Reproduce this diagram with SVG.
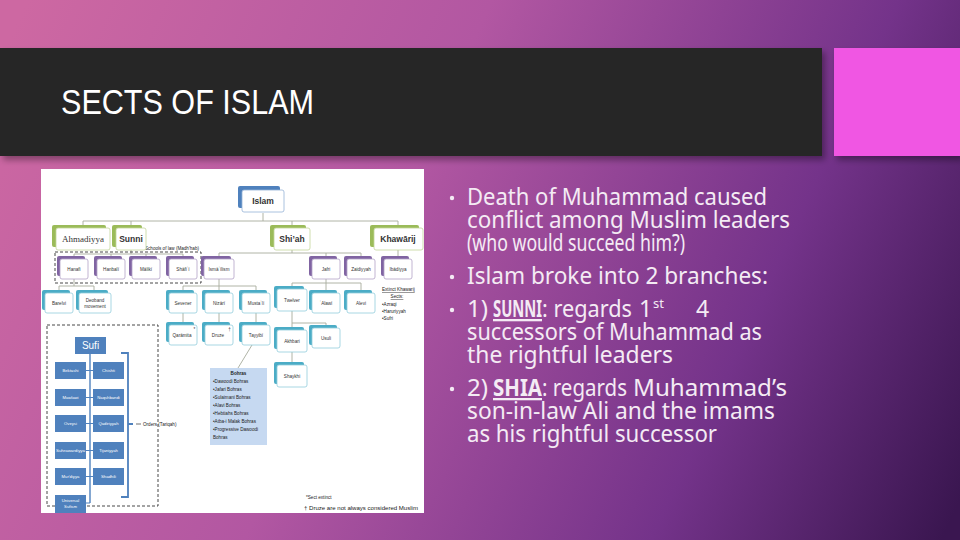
<svg xmlns="http://www.w3.org/2000/svg" width="960" height="540" viewBox="0 0 960 540">
<defs>
<linearGradient id="bg" gradientUnits="userSpaceOnUse" x1="0" y1="60" x2="960" y2="500">
<stop offset="0" stop-color="#cd68a2"/>
<stop offset="0.4" stop-color="#b257a2"/>
<stop offset="0.75" stop-color="#74338a"/>
<stop offset="1" stop-color="#3a1650"/>
</linearGradient>
<filter id="sh" x="-5%" y="-10%" width="115%" height="130%">
<feDropShadow dx="3" dy="4" stdDeviation="3" flood-color="#000" flood-opacity="0.35"/>
</filter>
<style>
.bkp{fill:#8064a2}.bkt{fill:#4bacc6}.bkg{fill:#9bbb59}.bkb{fill:#4f81bd}
.frp{fill:#fff;stroke:#b3a2c7;stroke-width:0.8}
.frt{fill:#fff;stroke:#92cddc;stroke-width:0.8}
.frg{fill:#fff;stroke:#c3d69b;stroke-width:0.8}
.frb{fill:#fff;stroke:#95b3d7;stroke-width:0.8}
.nt{font-family:"Liberation Sans",Arial,sans-serif;font-size:4.6px;fill:#333;text-anchor:middle}
.bt{font-family:"Liberation Sans",Arial,sans-serif;font-size:8.5px;font-weight:bold;fill:#333;text-anchor:middle}
.ln{stroke:#a7ab9c;fill:none;stroke-width:0.9}
.sb{fill:#4f81bd}
.st{font-family:"Liberation Sans",Arial,sans-serif;font-size:4.2px;fill:#fff;text-anchor:middle}
.sm{font-family:"Liberation Sans",Arial,sans-serif;font-size:4.6px;fill:#222}
.bl{font-family:"Noto Sans","Open Sans",sans-serif;font-size:23px;fill:#f4ebf4}
.bb{font-weight:bold;text-decoration:underline}
.sup{font-size:13px}
.dash{fill:none;stroke:#333;stroke-width:0.9;stroke-dasharray:3 2}
</style>
</defs>
<rect width="960" height="540" fill="url(#bg)"/>
<rect x="0" y="48" width="822" height="108" fill="#262626" filter="url(#sh)"/>
<rect x="834" y="48" width="126" height="108" fill="#f056e3" filter="url(#sh)"/>
<text x="61" y="114" font-family="Liberation Sans,Arial,sans-serif" font-size="35" fill="#fff" textLength="253" lengthAdjust="spacingAndGlyphs">SECTS OF ISLAM</text>

<g id="bullets">
<circle cx="452" cy="198" r="2.2" fill="#f4ebf4"/>
<circle cx="452" cy="277" r="2.2" fill="#f4ebf4"/>
<circle cx="452" cy="310" r="2.2" fill="#f4ebf4"/>
<circle cx="452" cy="389" r="2.2" fill="#f4ebf4"/>
<text class="bl" x="467" y="205" textLength="300" lengthAdjust="spacingAndGlyphs">Death of Muhammad caused</text>
<text class="bl" x="467" y="228" textLength="323" lengthAdjust="spacingAndGlyphs">conflict among Muslim leaders</text>
<text class="bl" x="467" y="251" textLength="218" lengthAdjust="spacingAndGlyphs">(who would succeed him?)</text>
<text class="bl" x="467" y="284" textLength="301" lengthAdjust="spacingAndGlyphs">Islam broke into 2 branches:</text>
<text class="bl" y="317"><tspan x="467" textLength="21" lengthAdjust="spacingAndGlyphs">1)</tspan><tspan class="bb" x="493" textLength="49" lengthAdjust="spacingAndGlyphs">SUNNI</tspan><tspan x="542" textLength="90" lengthAdjust="spacingAndGlyphs">: regards</tspan><tspan x="639">1</tspan><tspan class="sup" x="653" y="308">st</tspan><tspan x="696" y="317">4</tspan></text>
<text class="bl" x="467" y="340" textLength="295" lengthAdjust="spacingAndGlyphs">successors of Muhammad as</text>
<text class="bl" x="467" y="363" textLength="206" lengthAdjust="spacingAndGlyphs">the rightful leaders</text>
<text class="bl" y="396"><tspan x="467" textLength="21" lengthAdjust="spacingAndGlyphs">2)</tspan><tspan class="bb" x="493" textLength="49" lengthAdjust="spacingAndGlyphs">SHIA</tspan><tspan x="542" textLength="85" lengthAdjust="spacingAndGlyphs">: regards</tspan><tspan x="633" textLength="154" lengthAdjust="spacingAndGlyphs">Muhammad’s</tspan></text>
<text class="bl" x="467" y="419" textLength="308" lengthAdjust="spacingAndGlyphs">son-in-law Ali and the imams</text>
<text class="bl" x="467" y="442" textLength="250" lengthAdjust="spacingAndGlyphs">as his rightful successor</text>
</g>

<rect x="41" y="169" width="383" height="344" fill="#fff"/>

<g id="connectors">
<path class="ln" d="M263 213V221M83 221H398M83 221V225M131 221V225M292 221V225M398 221V225"/>
<path class="ln" d="M131 250V254M74 254H183M74 254V256M111 254V256M146 254V256M183 254V256"/>
<path class="ln" d="M292 250V253M219 253H361M219 253V256M326 253V256M361 253V256M398 250V256"/>
<path class="ln" d="M74 279V286M59 286H94M59 286V290M94 286V290"/>
<path class="ln" d="M219 279V286M183 286H256M183 286V290M219 286V290M256 286V290"/>
<path class="ln" d="M326 279V283M292 283H361M292 283V286M326 283V290M361 283V290"/>
<path class="ln" d="M183 313V322M219 313V322M256 313V322"/>
<path class="ln" d="M292 311V327M292 323H326V325M292 352V362"/>
<path class="ln" stroke="#555" d="M252 345L238 368"/>
</g>

<rect class="dash" x="55" y="252" width="146" height="31"/>
<text class="sm" x="145" y="250" font-size="4.4">Schools of law (Madh'hab)</text>

<g id="n-islam"><rect class="bkb" x="238" y="186" width="42" height="22" rx="2"/><rect class="frb" x="242" y="190" width="42" height="22" rx="2"/><text class="bt" x="263" y="204" font-size="9">Islam</text></g>
<g id="n-ahmadiyya"><rect class="bkg" x="52" y="225" width="54" height="22" rx="2"/><rect class="frg" x="56" y="228" width="54" height="22" rx="2"/><text x="83" y="242" font-family="Liberation Serif,serif" font-size="9" fill="#333" text-anchor="middle">Ahmadiyya</text></g>
<g id="n-sunni"><rect class="bkg" x="112" y="225" width="30" height="22" rx="2"/><rect class="frg" x="116" y="228" width="30" height="22" rx="2"/><text class="bt" x="131" y="242" font-size="7.5">Sunni</text></g>
<g id="n-shiah"><rect class="bkg" x="270" y="225" width="36" height="22" rx="2"/><rect class="frg" x="274" y="228" width="36" height="22" rx="2"/><text class="bt" x="292" y="242" font-size="7.5">Shi’ah</text></g>
<g id="n-khawarij"><rect class="bkg" x="370" y="225" width="49" height="22" rx="2"/><rect class="frg" x="374" y="228" width="49" height="22" rx="2"/><text class="bt" x="398" y="242" font-size="7.5">Khawārij</text></g>

<g id="n-hanafi"><rect class="bkp" x="57" y="256" width="28" height="20" rx="2"/><rect class="frp" x="60" y="259" width="28" height="20" rx="2"/><text class="nt" x="74" y="270.5">Hanafi</text></g>
<g id="n-hanbali"><rect class="bkp" x="94" y="256" width="28" height="20" rx="2"/><rect class="frp" x="97" y="259" width="28" height="20" rx="2"/><text class="nt" x="111" y="270.5">Hanbalī</text></g>
<g id="n-maliki"><rect class="bkp" x="129" y="256" width="28" height="20" rx="2"/><rect class="frp" x="132" y="259" width="28" height="20" rx="2"/><text class="nt" x="146" y="270.5">Mālikī</text></g>
<g id="n-shafii"><rect class="bkp" x="166" y="256" width="28" height="20" rx="2"/><rect class="frp" x="169" y="259" width="28" height="20" rx="2"/><text class="nt" x="183" y="270.5">Shāfiʿī</text></g>
<g id="n-ismailism"><rect class="bkp" x="201" y="256" width="30" height="20" rx="2"/><rect class="frp" x="204" y="259" width="30" height="20" rx="2"/><text class="nt" x="219" y="270.5">Ismāʿīlism</text></g>
<g id="n-jafri"><rect class="bkp" x="309" y="256" width="28" height="20" rx="2"/><rect class="frp" x="312" y="259" width="28" height="20" rx="2"/><text class="nt" x="326" y="270.5">Jafri</text></g>
<g id="n-zaidiyyah"><rect class="bkp" x="344" y="256" width="28" height="20" rx="2"/><rect class="frp" x="347" y="259" width="28" height="20" rx="2"/><text class="nt" x="361" y="270.5">Zaidiyyah</text></g>
<g id="n-ibadiyya"><rect class="bkp" x="381" y="256" width="28" height="20" rx="2"/><rect class="frp" x="384" y="259" width="28" height="20" rx="2"/><text class="nt" x="398" y="270.5">Ibādiyya</text></g>

<g id="n-barelvi"><rect class="bkt" x="42" y="290" width="28" height="20" rx="2"/><rect class="frt" x="45" y="293" width="28" height="20" rx="2"/><text class="nt" x="59" y="304.5">Barelvi</text></g>
<g id="n-deoband"><rect class="bkt" x="76" y="290" width="32" height="20" rx="2"/><rect class="frt" x="79" y="293" width="32" height="20" rx="2"/><text class="nt" x="95" y="302">Deoband</text><text class="nt" x="95" y="307.5">movement</text></g>
<g id="n-sevener"><rect class="bkt" x="166" y="290" width="28" height="20" rx="2"/><rect class="frt" x="169" y="293" width="28" height="20" rx="2"/><text class="nt" x="183" y="304.5">Sevener</text></g>
<g id="n-nizari"><rect class="bkt" x="202" y="290" width="28" height="20" rx="2"/><rect class="frt" x="205" y="293" width="28" height="20" rx="2"/><text class="nt" x="219" y="304.5">Nizārī</text></g>
<g id="n-mustali"><rect class="bkt" x="239" y="290" width="28" height="20" rx="2"/><rect class="frt" x="242" y="293" width="28" height="20" rx="2"/><text class="nt" x="256" y="304.5">Mustaʿlī</text></g>
<g id="n-twelver"><rect class="bkt" x="274" y="286" width="30" height="22" rx="2"/><rect class="frt" x="277" y="289" width="30" height="22" rx="2"/><text class="nt" x="292" y="301.5">Twelver</text></g>
<g id="n-alawi"><rect class="bkt" x="309" y="290" width="28" height="20" rx="2"/><rect class="frt" x="312" y="293" width="28" height="20" rx="2"/><text class="nt" x="326" y="304.5">ʿAlawī</text></g>
<g id="n-alevi"><rect class="bkt" x="344" y="290" width="28" height="20" rx="2"/><rect class="frt" x="347" y="293" width="28" height="20" rx="2"/><text class="nt" x="361" y="304.5">Alevi</text></g>

<g id="n-qaramita"><rect class="bkt" x="166" y="322" width="28" height="20" rx="2"/><rect class="frt" x="169" y="325" width="28" height="20" rx="2"/><text class="nt" x="182" y="337">Qarāmita</text><text class="nt" x="194.5" y="331" font-size="6">*</text></g>
<g id="n-druze"><rect class="bkt" x="202" y="322" width="28" height="20" rx="2"/><rect class="frt" x="205" y="325" width="28" height="20" rx="2"/><text class="nt" x="218" y="337">Druze</text><text class="nt" x="229.5" y="331" font-size="5.5">†</text></g>
<g id="n-tayyibi"><rect class="bkt" x="239" y="322" width="28" height="20" rx="2"/><rect class="frt" x="242" y="325" width="28" height="20" rx="2"/><text class="nt" x="256" y="337">Tayyibī</text></g>
<g id="n-akhbari"><rect class="bkt" x="274" y="327" width="30" height="22" rx="2"/><rect class="frt" x="277" y="330" width="30" height="22" rx="2"/><text class="nt" x="292" y="342.5">Akhbari</text></g>
<g id="n-usuli"><rect class="bkt" x="309" y="325" width="28" height="20" rx="2"/><rect class="frt" x="312" y="328" width="28" height="20" rx="2"/><text class="nt" x="326" y="339.5">Usuli</text></g>
<g id="n-shaykhi"><rect class="bkt" x="274" y="362" width="30" height="22" rx="2"/><rect class="frt" x="277" y="365" width="30" height="22" rx="2"/><text class="nt" x="292" y="377.5">Shaykhi</text></g>

<g id="n-bohras">
<rect x="210" y="368" width="57" height="77" fill="#c6d9f1"/>
<text class="sm" x="238.5" y="375" text-anchor="middle" font-weight="bold">Bohras</text>
<text class="sm" x="213" y="383">•Dawoodi Bohras</text>
<text class="sm" x="213" y="391">•Jafari Bohras</text>
<text class="sm" x="213" y="399">•Sulaimani Bohras</text>
<text class="sm" x="213" y="407">•Alavi Bohras</text>
<text class="sm" x="213" y="415">•Hebtiahs Bohras</text>
<text class="sm" x="213" y="423">•Atba-i Malak Bohras</text>
<text class="sm" x="213" y="431">•Progressive Dawoodi</text>
<text class="sm" x="213" y="439">Bohras</text>
</g>

<g id="n-extinct-khawarij">
<text class="sm" x="382" y="291" text-decoration="underline">Extinct Khawarij</text>
<text class="sm" x="397" y="298" text-anchor="middle" text-decoration="underline">Sects:</text>
<text class="sm" x="382" y="306">•Azraqi</text>
<text class="sm" x="382" y="313">•Haruriyyah</text>
<text class="sm" x="382" y="320">•Sufri</text>
</g>

<g id="n-sufi-group">
<rect class="dash" x="47" y="325" width="111" height="181"/>
<path d="M90 353V503" stroke="#4f81bd" stroke-width="1.4" fill="none"/>
<path d="M86 370.5H93M86 397.5H93M86 423.5H93M86 450.5H93M86 476.5H93M86 503H90" stroke="#4f81bd" stroke-width="1" fill="none"/>
<path d="M121 353H128V497H121M128 424H133" stroke="#4f81bd" stroke-width="1.8" fill="none"/>
<path d="M136 424H141" stroke="#333" stroke-width="0.7"/>
<text class="sm" x="143" y="426" font-size="6">Orders (Tariqah)</text>
<g id="n-sufi"><rect class="sb" x="75" y="337" width="31" height="17"/><text x="90.5" y="349" font-family="Liberation Sans,Arial,sans-serif" font-size="10" fill="#fff" text-anchor="middle">Sufi</text></g>
<g id="n-bektashi"><rect class="sb" x="55" y="362" width="31" height="17"/><text class="st" x="70.5" y="372">Bektashi</text></g>
<g id="n-chishti"><rect class="sb" x="93" y="362" width="31" height="17"/><text class="st" x="108.5" y="372">Chishti</text></g>
<g id="n-mawlawi"><rect class="sb" x="55" y="389" width="31" height="17"/><text class="st" x="70.5" y="399">Mawlawi</text></g>
<g id="n-naqshbandi"><rect class="sb" x="93" y="389" width="31" height="17"/><text class="st" x="108.5" y="399">Naqshbandi</text></g>
<g id="n-oveysi"><rect class="sb" x="55" y="415" width="31" height="17"/><text class="st" x="70.5" y="425">Oveysi</text></g>
<g id="n-qadiriyyah"><rect class="sb" x="93" y="415" width="31" height="17"/><text class="st" x="108.5" y="425">Qadiriyyah</text></g>
<g id="n-suhrawardiyya"><rect class="sb" x="55" y="442" width="31" height="17"/><text class="st" x="70.5" y="452" textLength="29" lengthAdjust="spacingAndGlyphs">Suhrawardiyya</text></g>
<g id="n-tijaniyyah"><rect class="sb" x="93" y="442" width="31" height="17"/><text class="st" x="108.5" y="452">Tijaniyyah</text></g>
<g id="n-muridiyya"><rect class="sb" x="55" y="468" width="31" height="17"/><text class="st" x="70.5" y="478">Mur'diyya</text></g>
<g id="n-shadhili"><rect class="sb" x="93" y="468" width="31" height="17"/><text class="st" x="108.5" y="478">Shadhili</text></g>
<g id="n-universal"><rect class="sb" x="55" y="495" width="31" height="18"/><text class="st" x="70.5" y="502">Universal</text><text class="st" x="70.5" y="508">Sufism</text></g>
</g>

<g id="legend">
<text class="sm" x="306" y="499" font-size="5">*Sect extinct</text>
<text class="sm" x="304" y="510" font-size="5" textLength="114" lengthAdjust="spacingAndGlyphs">† Druze are not always considered Muslim</text>
</g>
</svg>
